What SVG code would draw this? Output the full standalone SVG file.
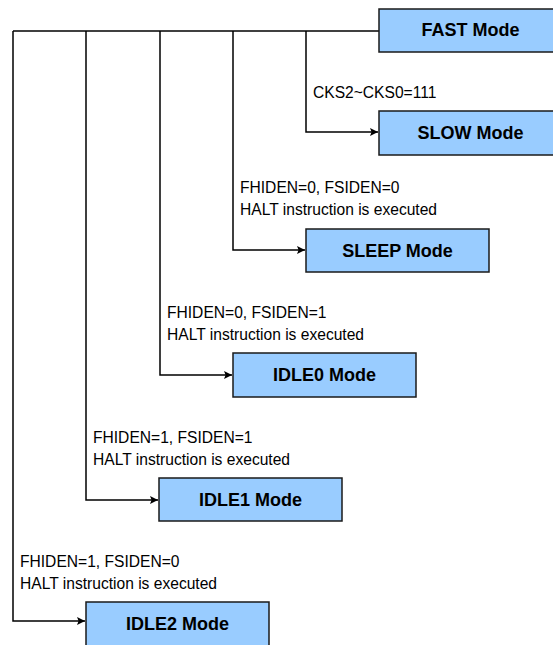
<svg xmlns="http://www.w3.org/2000/svg" width="553" height="645" viewBox="0 0 553 645">
<style>
.box{fill:#99CCFF;stroke:#1a1a1a;stroke-width:1.5}
.title{font-family:"Liberation Sans",Arial,sans-serif;font-weight:bold;font-size:18px;fill:#000;text-anchor:middle}
.lbl{font-family:"Liberation Sans",Arial,sans-serif;font-size:15.6px;fill:#000}
.wire{fill:none;stroke:#000;stroke-width:1.5}
</style>
<defs>
<marker id="arr" viewBox="0 0 10 10" refX="10" refY="5" markerWidth="8" markerHeight="8" markerUnits="userSpaceOnUse" orient="auto">
<path d="M0,0 L10,5 L0,10 L2,5 Z" fill="#000"/>
</marker>
</defs>
<rect width="553" height="645" fill="#fff"/>
<g id="connectors">
<path class="wire" d="M379,31 H13"/>
<path class="wire" d="M306,31 V132 H378" marker-end="url(#arr)"/>
<path class="wire" d="M233,31 V250 H305" marker-end="url(#arr)"/>
<path class="wire" d="M160,31 V375 H232" marker-end="url(#arr)"/>
<path class="wire" d="M86,31 V500 H158" marker-end="url(#arr)"/>
<path class="wire" d="M13,31 V621 H85" marker-end="url(#arr)"/>
</g>
<g id="labels">
<text class="lbl" x="313" y="98">CKS2~CKS0=111</text>
<text class="lbl" x="240" y="193">FHIDEN=0, FSIDEN=0</text>
<text class="lbl" x="240" y="214.5">HALT instruction is executed</text>
<text class="lbl" x="167" y="318">FHIDEN=0, FSIDEN=1</text>
<text class="lbl" x="167" y="339.5">HALT instruction is executed</text>
<text class="lbl" x="93" y="443">FHIDEN=1, FSIDEN=1</text>
<text class="lbl" x="93" y="464.5">HALT instruction is executed</text>
<text class="lbl" x="20" y="567">FHIDEN=1, FSIDEN=0</text>
<text class="lbl" x="20" y="588.5">HALT instruction is executed</text>
</g>
<g id="fast"><rect class="box" x="379" y="9" width="183" height="43"/><text class="title" x="470.5" y="36">FAST Mode</text></g>
<g id="slow"><rect class="box" x="379" y="111" width="183" height="44"/><text class="title" x="470.5" y="139">SLOW Mode</text></g>
<g id="sleep"><rect class="box" x="306" y="229" width="183" height="43"/><text class="title" x="397.5" y="257">SLEEP Mode</text></g>
<g id="idle0"><rect class="box" x="233" y="353" width="183" height="44"/><text class="title" x="324.5" y="381">IDLE0 Mode</text></g>
<g id="idle1"><rect class="box" x="159" y="478" width="183" height="43"/><text class="title" x="250.5" y="506">IDLE1 Mode</text></g>
<g id="idle2"><rect class="box" x="86" y="602" width="183" height="50"/><text class="title" x="177.5" y="630">IDLE2 Mode</text></g>
</svg>
